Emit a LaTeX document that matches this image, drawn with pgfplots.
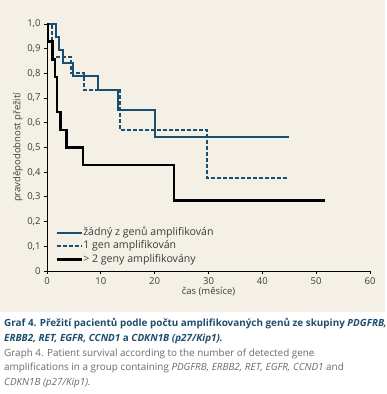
\documentclass[border=0pt]{standalone}
\usepackage{fontspec}
\setmainfont{Open Sans}
\usepackage{pgfplots}
\pgfplotsset{compat=1.18}
\definecolor{bg}{HTML}{F5F0E6}
\definecolor{kmblue}{HTML}{1B4F72}
\definecolor{captblue}{HTML}{1F4E6E}
\definecolor{captgray}{HTML}{6B6B6B}
\definecolor{ticktext}{HTML}{3C3C3C}
\begin{document}
\begin{tikzpicture}[x=1pt,y=1pt]
\path[fill=white] (0,0) rectangle (385,394);
\fill[bg] (0,82) rectangle (385,394);
\begin{axis}[
  at={(47pt,123pt)}, anchor=south west,
  scale only axis, width=323pt, height=247pt,
  xmin=0, xmax=60, ymin=0, ymax=1,
  axis lines=left, axis line style={-, line width=0.9pt, black},
  xtick={0,10,20,30,40,50,60},
  xticklabels={0,10,20,30,40,50,60},
  ytick={0,0.1,0.2,0.3,0.4,0.5,0.6,0.7,0.8,0.9,1.0},
  yticklabels={0,{0,1},{0,2},{0,3},{0,4},{0,5},{0,6},{0,7},{0,8},{0,9},{1,0}},
  tick align=outside, major tick length=3pt,
  tick style={black, line width=0.8pt},
  ticklabel style={font=\fontsize{9.5}{11}\selectfont, text=ticktext},
  xlabel={čas (měsíce)}, ylabel={pravděpodobnost přežití},
  every axis x label/.style={at={(axis description cs:0.5,-0.097)}, anchor=base},
  every axis y label/.style={at={(axis description cs:-0.09,0.5)}, rotate=90, anchor=center},
  label style={font=\fontsize{9.5}{11}\selectfont, text=ticktext},
  clip=false,
  legend image code/.code={\draw[#1] (0pt,0pt) -- (25pt,0pt);},
  legend style={at={(axis cs:1.5,0.178)}, anchor=north west, draw=none, fill=none,
    font=\fontsize{10.6}{12}\selectfont, text=ticktext, inner sep=0pt, row sep=2.5pt,
    nodes={text height=7.5pt, text depth=2.5pt, inner sep=0.5pt},
    /tikz/every even column/.append style={column sep=2.5pt}},
  legend cell align=left,
]
\addplot[const plot, kmblue, line width=2pt] coordinates {
  (0,1) (1.6,0.947) (2.3,0.895) (2.9,0.842) (4.9,0.789) (9.5,0.732) (13.1,0.650) (20.1,0.542) (45,0.542)};
\addlegendentry{žádný z genů amplifikován}
\addplot[const plot, kmblue, line width=2pt, dash pattern=on 4pt off 2pt] coordinates {
  (0,1) (0.9,0.867) (4.5,0.800) (6.9,0.733) (13.6,0.572) (29.7,0.378) (44.5,0.378)};
\addlegendentry{1 gen amplifikován}
\addplot[const plot, black, line width=2.5pt] coordinates {
  (0,1) (0.2,0.929) (1.0,0.857) (1.5,0.786) (1.9,0.643) (2.5,0.571) (3.6,0.5) (6.7,0.429) (23.6,0.286) (51.7,0.286)};
\addlegendentry{> 2 geny amplifikovány}
\end{axis}
\begin{scope}[font=\fontsize{9.9}{11}\selectfont]
\node[anchor=base west, inner sep=0, text=captblue] at (4,67) {\bfseries Graf 4. Přežití pacientů podle počtu amplifikovaných genů ze skupiny \itshape PDGFRB,};
\node[anchor=base west, inner sep=0, text=captblue] at (4,52.4) {\bfseries\itshape ERBB2, RET, EGFR, CCND1 \upshape a \itshape CDKN1B (p27/Kip1).};
\node[anchor=base west, inner sep=0, text=captgray] at (4,37.8) {Graph 4. Patient survival according to the number of detected gene};
\node[anchor=base west, inner sep=0, text=captgray] at (4,23.2) {amplifications in a group containing \itshape PDGFRB, ERBB2, RET, EGFR, CCND1 \upshape and};
\node[anchor=base west, inner sep=0, text=captgray] at (4,8.6) {\itshape CDKN1B (p27/Kip1).};
\end{scope}
\end{tikzpicture}
\end{document}
